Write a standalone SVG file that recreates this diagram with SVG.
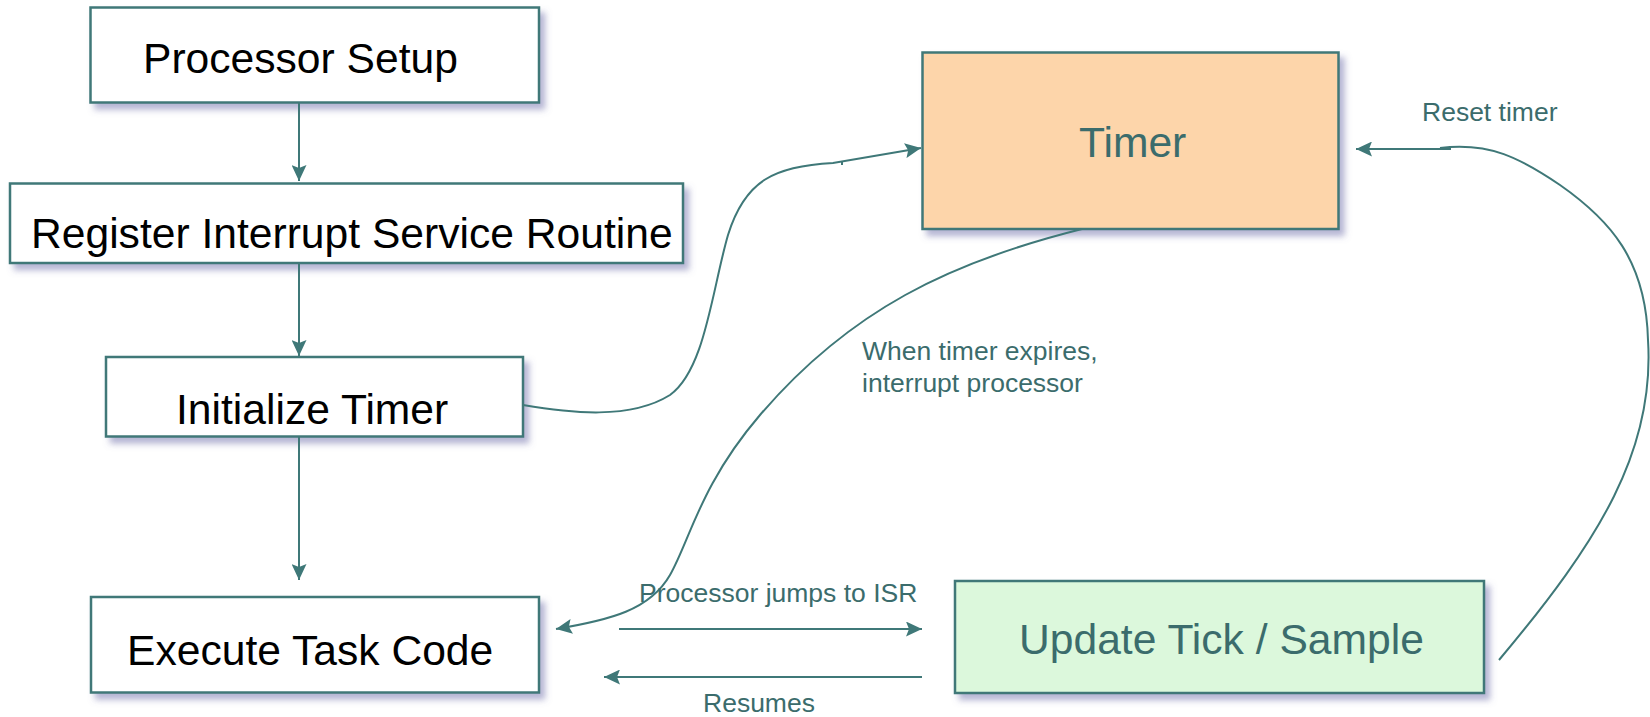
<svg xmlns="http://www.w3.org/2000/svg" width="1650" height="717" viewBox="0 0 1650 717">
<style>
.box{stroke:#3f7878;stroke-width:2.5}
.plain{fill:#ffffff}
.lbl{font-family:"Liberation Sans",Arial,sans-serif;font-size:42.6px;fill:#000000}
.tl{font-family:"Liberation Sans",Arial,sans-serif;font-size:42.6px;fill:#3b6c6c}
.sm{font-family:"Liberation Sans",Arial,sans-serif;font-size:26.5px;fill:#3b6c6c}
.con{fill:none;stroke:#3f7878;stroke-width:2}
.arr{marker-end:url(#ah)}
</style>
<defs>
<filter id="sh" x="-10%" y="-10%" width="125%" height="135%">
<feDropShadow dx="5" dy="6" stdDeviation="3" flood-color="#6a6aa8" flood-opacity="0.5"/>
</filter>
<marker id="ah" markerUnits="userSpaceOnUse" markerWidth="17" markerHeight="15" refX="16" refY="7.5" orient="auto">
<path d="M0,0 L16,7.5 L0,15 L3,7.5 z" fill="#3f7878"/>
</marker>
</defs>
<g id="processor-setup">
<rect class="box plain" x="90.5" y="7.5" width="448.5" height="95" filter="url(#sh)"/>
<text class="lbl" x="143" y="73">Processor Setup</text>
</g>
<g id="register-isr">
<rect class="box plain" x="10" y="183.5" width="673" height="79.5" filter="url(#sh)"/>
<text class="lbl" x="31" y="248">Register Interrupt Service Routine</text>
</g>
<g id="initialize-timer">
<rect class="box plain" x="106" y="357" width="417" height="79.5" filter="url(#sh)"/>
<text class="lbl" x="176" y="424">Initialize Timer</text>
</g>
<g id="execute-task">
<rect class="box plain" x="91" y="597" width="448" height="95.5" filter="url(#sh)"/>
<text class="lbl" x="127" y="665">Execute Task Code</text>
</g>
<g id="timer">
<rect class="box" fill="#fdd5aa" x="922.5" y="52.5" width="416" height="176.5" filter="url(#sh)"/>
<text class="tl" x="1079" y="157">Timer</text>
</g>
<g id="update-tick">
<rect class="box" fill="#dcf8dc" x="955" y="581" width="529" height="112" filter="url(#sh)"/>
<text class="tl" x="1019" y="654">Update Tick / Sample</text>
</g>
<g id="connectors">
<path class="con arr" d="M299,103 V181"/>
<path class="con arr" d="M299,263 V356"/>
<path class="con arr" d="M299,437 V580"/>
<path class="con arr" d="M523,405 C570,413 630,420 670,395 C705,370 712,290 728,235 C745,180 775,166 833,163 L921,148"/>
<path class="con" d="M842,161 L842,165"/>
<path class="con arr" d="M1082,229 C950,262 850,310 760,415 C700,485 690,540 670,575 C650,610 610,620 556,629"/>
<path class="con arr" d="M619,629 H922"/>
<path class="con arr" d="M922,677 H604"/>
<path class="con" d="M1499,660 C1600,540 1655,450 1648,340 C1646,260 1610,220 1560,185 C1520,158 1490,142 1440,148"/>
<path class="con arr" d="M1451,149 H1356"/>
</g>
<g id="labels">
<text class="sm" x="1422" y="121">Reset timer</text>
<text class="sm" x="862" y="360">When timer expires,</text>
<text class="sm" x="862" y="392">interrupt processor</text>
<text class="sm" x="639" y="602">Processor jumps to ISR</text>
<text class="sm" x="703" y="712">Resumes</text>
</g>
</svg>
